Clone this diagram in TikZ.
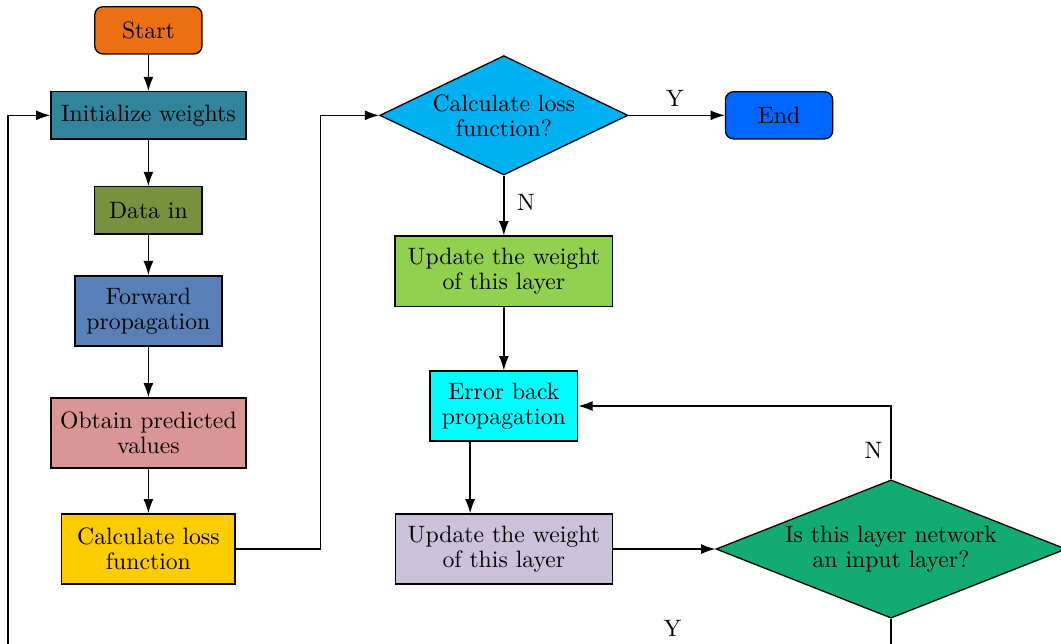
\documentclass[tikz,border=0pt]{standalone}
\usepackage{amsmath,amssymb,color}
\usepackage{tikz}
\usetikzlibrary{arrows.meta}
\usetikzlibrary{shapes.geometric}

\definecolor{cstart}{RGB}{236,112,17}
\definecolor{cinit}{RGB}{49,132,155}
\definecolor{cdata}{RGB}{118,146,60}
\definecolor{cfwd}{RGB}{88,128,183}
\definecolor{cpred}{RGB}{217,150,148}
\definecolor{ccalc}{RGB}{255,204,0}
\definecolor{cdecA}{RGB}{0,176,240}
\definecolor{cend}{RGB}{0,102,255}
\definecolor{cupdA}{RGB}{146,208,80}
\definecolor{cerr}{RGB}{0,255,255}
\definecolor{cupdB}{RGB}{204,193,218}
\definecolor{cdecB}{RGB}{19,171,116}

\begin{document}
\begin{tikzpicture}[line width=0.55pt,font=\linespread{0.875}\selectfont,
  term/.style={draw=black,rounded corners=0.12cm,minimum width=1.59cm,minimum height=0.70cm},
  proc/.style={draw=black,align=center,minimum height=0.70cm},
  proctwo/.style={draw=black,align=center,minimum height=1.04cm},
  decide/.style={draw=black,diamond,align=center,inner sep=0pt},
  arr/.style={-{Latex[length=6pt,width=4.2pt]}}]
\useasboundingbox (0,0) rectangle (15.73,-9.54);

% left column
\node (Start)[term,fill=cstart] at (2.20,-0.45) {Start};
\node (Init)[proc,fill=cinit,minimum width=2.89cm] at (2.20,-1.71) {Initialize weights};
\node (Data)[proc,fill=cdata,minimum width=1.59cm] at (2.20,-3.12) {Data in};
\node (Fwd)[proctwo,fill=cfwd,minimum width=2.18cm] at (2.20,-4.61) {Forward\\propagation};
\node (Pred)[proctwo,fill=cpred,minimum width=2.89cm] at (2.20,-6.42) {Obtain predicted\\values};
\node (Calc)[proctwo,fill=ccalc,minimum width=2.57cm] at (2.20,-8.14) {Calculate loss\\function};

% middle column
\node (DecA)[decide,fill=cdecA,aspect=2.08,minimum width=3.68cm,minimum height=1.77cm] at (7.47,-1.71) {Calculate loss\\function?};
\node (End)[term,fill=cend] at (11.55,-1.71) {End};
\node (UpdA)[proctwo,fill=cupdA,minimum width=3.23cm] at (7.47,-4.02) {Update the weight\\of this layer};
\node (Err)[proctwo,fill=cerr,minimum width=2.19cm] at (7.47,-6.02) {Error back\\propagation};
\node (UpdB)[proctwo,fill=cupdB,minimum width=3.22cm] at (7.47,-8.14) {Update the weight\\of this layer};
\node (DecB)[decide,fill=cdecB,aspect=2.54,minimum width=5.19cm,minimum height=2.05cm] at (13.21,-8.14) {Is this layer network\\an input layer?};

\coordinate (R1) at (4.75,-1.71);
\coordinate (B1) at (0.12,-9.75);

\draw[arr] (Start)--(Init);
\draw[arr] (Init)--(Data);
\draw[arr] (Data)--(Fwd);
\draw[arr] (Fwd)--(Pred);
\draw[arr] (Pred)--(Calc);
\draw[arr] (Calc.east) -| (R1) |- (DecA.west);
\draw[arr] (DecA.east)--(End.west) node[pos=.48,above] {Y};
\draw[arr] (DecA.south)--(UpdA.north) node[pos=.45,right,xshift=2pt] {N};
\draw[arr] (UpdA)--(Err);
\draw[arr] ([xshift=-0.50cm]Err.south)--([xshift=-0.50cm]Err.south |- UpdB.north);
\draw[arr] (UpdB.east)--(DecB.west);
\draw[arr] (DecB.north) |- (Err.east) node[pos=.2,left] {N};
\draw[arr] (DecB.south) |- (B1) |- (Init.west);
\node (Ylow) at (9.97,-9.31) {Y};
\end{tikzpicture}
\end{document}
